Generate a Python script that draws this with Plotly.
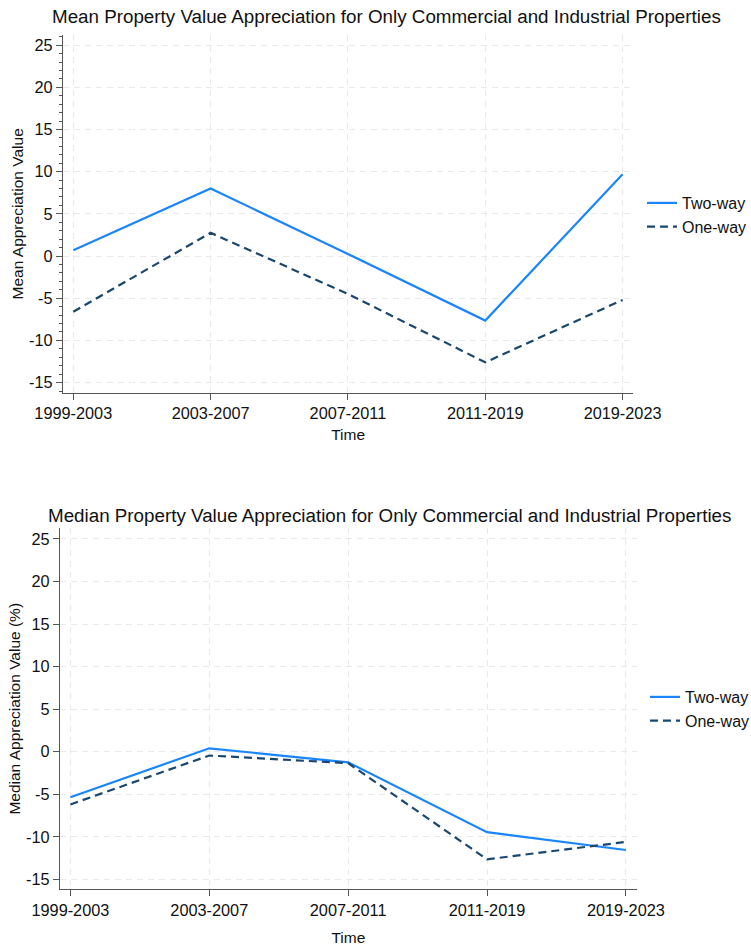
import plotly.graph_objects as go

# Time periods (x categories)
periods = ["1999-2003", "2003-2007", "2007-2011", "2011-2019", "2019-2023"]

# Mean appreciation (%) for commercial and industrial properties
mean_two_way = [0.7, 8.0, 0.25, -7.65, 9.7]
mean_one_way = [-6.6, 2.75, -4.5, -12.6, -5.2]

# Median appreciation (%) for commercial and industrial properties
median_two_way = [-5.35, 0.4, -1.25, -9.45, -11.55]
median_one_way = [-6.2, -0.45, -1.35, -12.65, -10.6]

y_ticks = [-15, -10, -5, 0, 5, 10, 15, 20, 25]

W, H = 751, 946
FONT = "Liberation Sans, Arial, Helvetica, sans-serif"
BLUE = "#1a85ff"
NAVY = "#1a476f"
AXIS = "#555555"
GRID = "#e9e9e9"
TICK_SIZE = 16.3


def px_x(p):
    return p / W


def px_y(p):
    return 1 - p / H


fig = go.Figure()

# Top panel: mean
fig.add_trace(go.Scatter(x=periods, y=mean_two_way, name="Two-way", mode="lines",
                         line=dict(color=BLUE, width=2.2), xaxis="x", yaxis="y", legend="legend"))
fig.add_trace(go.Scatter(x=periods, y=mean_one_way, name="One-way", mode="lines",
                         line=dict(color=NAVY, width=2.2, dash="8px,5px"), xaxis="x", yaxis="y",
                         legend="legend"))

# Bottom panel: median
fig.add_trace(go.Scatter(x=periods, y=median_two_way, name="Two-way", mode="lines",
                         line=dict(color=BLUE, width=2.2), xaxis="x2", yaxis="y2", legend="legend2"))
fig.add_trace(go.Scatter(x=periods, y=median_one_way, name="One-way", mode="lines",
                         line=dict(color=NAVY, width=2.2, dash="8px,5px"), xaxis="x2", yaxis="y2",
                         legend="legend2"))

xcommon = dict(
    type="category", categoryorder="array", categoryarray=periods,
    range=[-0.075, 4.078], automargin=False,
    showline=True, linecolor=AXIS, linewidth=1.3,
    ticks="outside", ticklen=6, tickcolor=AXIS, tickwidth=1.2,
    showgrid=True, gridcolor=GRID, gridwidth=1, griddash="6px,5px",
    zeroline=False, tickfont=dict(family=FONT, size=TICK_SIZE, color="#111"),
    title_font=dict(family=FONT, size=15.5, color="#111"),
)
ycommon = dict(
    tickmode="array", tickvals=y_ticks, ticktext=[str(v) for v in y_ticks],
    automargin=False,
    showline=True, linecolor=AXIS, linewidth=1.3,
    ticks="outside", ticklen=6, tickcolor=AXIS, tickwidth=1.2,
    showgrid=True, gridcolor=GRID, gridwidth=1, griddash="6px,5px",
    zeroline=False, tickfont=dict(family=FONT, size=TICK_SIZE, color="#111"),
    title_font=dict(family=FONT, size=15.5, color="#111"),
)

legend_common = dict(xref="paper", yref="paper", xanchor="left", yanchor="middle",
                     font=dict(family=FONT, size=16, color="#111"),
                     bgcolor="rgba(0,0,0,0)", tracegroupgap=0)

fig.update_layout(
    width=W, height=H,
    margin=dict(l=0, r=0, t=0, b=0, autoexpand=False),
    paper_bgcolor="white", plot_bgcolor="white",
    font=dict(family=FONT, size=15.5, color="#111"),
    xaxis=dict(xcommon, domain=[px_x(63), px_x(633.3)], anchor="y",
               title=dict(text="Time", standoff=7)),
    yaxis=dict(ycommon, domain=[px_y(392.7), px_y(35)], anchor="x",
               range=[-16.2, 26.2],
               minor=dict(tickmode="linear", dtick=1, ticks="outside", ticklen=3,
                          tickcolor=AXIS, showgrid=False),
               title=dict(text="Mean Appreciation Value", standoff=1)),
    xaxis2=dict(xcommon, domain=[px_x(60), px_x(636.7)], anchor="y2",
                title=dict(text="Time", standoff=16)),
    yaxis2=dict(ycommon, domain=[px_y(889.3), px_y(528.3)], anchor="x2",
                range=[-16.17, 26.25],
                title=dict(text="Median Appreciation Value (%)", standoff=1)),
    legend=dict(legend_common, x=px_x(642), y=px_y(215)),
    legend2=dict(legend_common, x=px_x(645), y=px_y(709)),
    annotations=[
        dict(text="Mean Property Value Appreciation for Only Commercial and Industrial Properties",
             x=px_x(387), y=px_y(17), xref="paper", yref="paper", xanchor="center",
             yanchor="middle", showarrow=False, font=dict(family=FONT, size=18.8, color="#111")),
        dict(text="Median Property Value Appreciation for Only Commercial and Industrial Properties",
             x=px_x(389), y=px_y(515), xref="paper", yref="paper", xanchor="center",
             yanchor="middle", showarrow=False, font=dict(family=FONT, size=18.8, color="#111")),
    ],
)

fig.write_html("out.html")
